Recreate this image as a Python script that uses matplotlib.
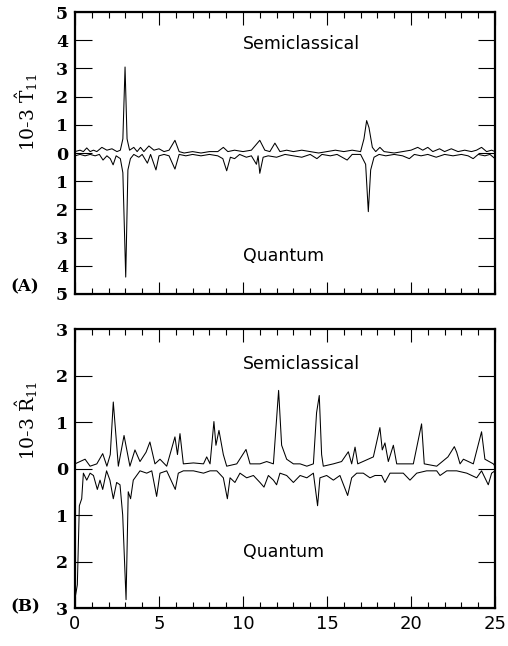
import matplotlib
matplotlib.use("Agg")
import matplotlib.pyplot as plt
import numpy as np

plt.rcParams['mathtext.fontset'] = 'dejavuserif'

# ---- Panel A data (T11) ----
ta_semi_x = [0.0, 0.3, 0.5, 0.7, 0.9, 1.1, 1.3, 1.6, 1.9, 2.2, 2.5, 2.7, 2.85, 2.98, 3.1, 3.25,
             3.5, 3.7, 3.9, 4.1, 4.4, 4.7, 5.0, 5.3, 5.6, 5.95, 6.2, 6.5, 7.0, 7.5, 8.0, 8.5,
             8.83, 9.1, 9.5, 10.0, 10.5, 11.0, 11.3, 11.6, 11.9, 12.2, 12.6, 13.0, 13.5, 14.0,
             14.5, 15.0, 15.5, 16.0, 16.5, 17.0, 17.2, 17.36, 17.5, 17.7, 17.9, 18.15, 18.4,
             19.0, 19.5, 20.0, 20.4, 20.7, 21.0, 21.3, 21.7, 22.0, 22.4, 22.8, 23.2, 23.6,
             23.9, 24.2, 24.5, 24.8, 25.0]
ta_semi_y = [0.05, 0.1, 0.05, 0.18, 0.05, 0.1, 0.05, 0.2, 0.1, 0.15, 0.05, 0.1, 0.5, 3.05, 0.5, 0.1,
             0.2, 0.05, 0.2, 0.05, 0.25, 0.1, 0.15, 0.05, 0.1, 0.45, 0.05, 0.0, 0.05, 0.0, 0.05, 0.05,
             0.2, 0.05, 0.1, 0.05, 0.1, 0.45, 0.1, 0.05, 0.35, 0.05, 0.1, 0.05, 0.1, 0.05,
             0.0, 0.05, 0.1, 0.05, 0.1, 0.05, 0.5, 1.15, 0.9, 0.2, 0.05, 0.2, 0.05,
             0.0, 0.05, 0.1, 0.2, 0.1, 0.2, 0.05, 0.15, 0.05, 0.15, 0.05, 0.1, 0.05,
             0.1, 0.2, 0.05, 0.1, 0.05]

ta_quan_x = [0.0, 0.3, 0.6, 0.9, 1.2, 1.45, 1.67, 1.9, 2.1, 2.27, 2.45, 2.7, 2.85, 3.02, 3.15, 3.3,
             3.5, 3.8, 4.0, 4.31, 4.5, 4.82, 5.0, 5.3, 5.6, 5.95, 6.2, 6.6, 7.0, 7.5, 8.0, 8.5,
             8.8, 9.03, 9.25, 9.5, 9.8, 10.2, 10.5, 10.8, 10.9, 11.0, 11.2, 11.5, 12.0, 12.5,
             13.0, 13.5, 14.0, 14.4, 14.7, 15.2, 15.6, 16.2, 16.5, 17.0, 17.3, 17.46, 17.6,
             17.8, 18.1, 18.5, 19.0, 19.5, 19.9, 20.2, 20.6, 21.0, 21.5, 22.0, 22.5, 23.0,
             23.4, 23.7, 24.0, 24.4, 24.7, 25.0]
ta_quan_y = [0.1, 0.05, 0.1, 0.05, 0.1, 0.05, 0.25, 0.1, 0.2, 0.42, 0.1, 0.2, 0.7, 4.4, 0.6, 0.2,
             0.05, 0.15, 0.05, 0.36, 0.05, 0.6, 0.1, 0.05, 0.1, 0.57, 0.05, 0.1, 0.05, 0.1, 0.05, 0.1,
             0.2, 0.63, 0.15, 0.2, 0.05, 0.15, 0.1, 0.4, 0.1, 0.72, 0.15, 0.1, 0.15, 0.05,
             0.1, 0.15, 0.05, 0.2, 0.05, 0.1, 0.05, 0.25, 0.05, 0.05, 0.4, 2.08, 0.6,
             0.15, 0.05, 0.1, 0.05, 0.1, 0.2, 0.05, 0.1, 0.05, 0.15, 0.05, 0.1, 0.05,
             0.1, 0.2, 0.05, 0.1, 0.05, 0.2]

# ---- Panel B data (R11) ----
rb_semi_x = [0.0, 0.3, 0.6, 0.9, 1.3, 1.65, 1.9, 2.1, 2.28, 2.58, 2.92, 3.27, 3.57, 3.87, 4.23,
             4.46, 4.76, 5.06, 5.46, 5.95, 6.1, 6.25, 6.45, 7.05, 7.65, 7.84, 8.04, 8.27, 8.39,
             8.57, 8.83, 9.03, 9.63, 10.18, 10.42, 11.01, 11.41, 11.81, 12.12, 12.3, 12.6,
             13.0, 13.4, 13.8, 14.19, 14.38, 14.54, 14.68, 14.78, 15.38, 15.87, 16.27, 16.47,
             16.67, 16.83, 17.76, 18.15, 18.29, 18.45, 18.65, 18.95, 19.15, 20.14, 20.63, 20.79,
             21.53, 22.2, 22.58, 22.72, 22.92, 23.12, 23.71, 24.2, 24.4, 24.9, 25.0]
rb_semi_y = [0.1, 0.15, 0.2, 0.05, 0.1, 0.32, 0.05, 0.3, 1.43, 0.05, 0.71, 0.05, 0.4, 0.15, 0.35,
             0.57, 0.1, 0.2, 0.05, 0.68, 0.3, 0.75, 0.1, 0.12, 0.1, 0.25, 0.1, 1.01, 0.5,
             0.82, 0.3, 0.05, 0.1, 0.41, 0.1, 0.1, 0.15, 0.1, 1.68, 0.5, 0.2,
             0.1, 0.1, 0.05, 0.1, 1.2, 1.57, 0.3, 0.05, 0.1, 0.15, 0.36, 0.1,
             0.46, 0.1, 0.25, 0.88, 0.4, 0.55, 0.15, 0.5, 0.1, 0.1, 0.96, 0.1,
             0.05, 0.25, 0.47, 0.35, 0.1, 0.2, 0.1, 0.79, 0.2, 0.1, 0.05]

rb_quan_x = [0.0, 0.14, 0.26, 0.4, 0.5, 0.7, 0.9, 1.1, 1.33, 1.49, 1.65, 1.88, 2.08, 2.28, 2.48,
             2.68, 2.84, 3.04, 3.17, 3.31, 3.47, 3.87, 4.27, 4.57, 4.86, 5.06, 5.46, 5.97, 6.15,
             6.45, 7.05, 7.65, 8.04, 8.44, 8.83, 9.07, 9.23, 9.52, 9.82, 10.22, 10.62, 11.01,
             11.25, 11.51, 11.81, 12.0, 12.2, 12.6, 13.0, 13.4, 13.8, 14.19, 14.44, 14.58,
             14.98, 15.38, 15.77, 16.23, 16.47, 16.77, 17.16, 17.56, 17.86, 18.25, 18.45, 18.75,
             19.15, 19.54, 19.94, 20.34, 20.93, 21.53, 21.73, 22.13, 22.72, 23.32, 23.91, 24.2,
             24.6, 24.8, 25.0]
rb_quan_y = [2.8, 2.5, 0.8, 0.65, 0.1, 0.25, 0.1, 0.15, 0.45, 0.25, 0.45, 0.05, 0.25, 0.65, 0.3,
             0.35, 1.0, 2.82, 0.5, 0.65, 0.25, 0.05, 0.1, 0.05, 0.6, 0.1, 0.05, 0.45, 0.1,
             0.05, 0.05, 0.1, 0.05, 0.05, 0.2, 0.65, 0.2, 0.3, 0.1, 0.2, 0.15, 0.3,
             0.4, 0.15, 0.25, 0.35, 0.1, 0.15, 0.3, 0.15, 0.2, 0.1, 0.8, 0.2,
             0.15, 0.25, 0.15, 0.58, 0.2, 0.1, 0.1, 0.2, 0.15, 0.15, 0.3, 0.1,
             0.1, 0.1, 0.25, 0.1, 0.05, 0.05, 0.15, 0.05, 0.05, 0.1, 0.2, 0.05,
             0.35, 0.1, 0.05]

ya_ticks = [-5, -4, -3, -2, -1, 0, 1, 2, 3, 4, 5]
ya_labels = ['5', '4', '3', '2', '1', '0', '1', '2', '3', '4', '5']
yb_ticks = [-3, -2, -1, 0, 1, 2, 3]
yb_labels = ['3', '2', '1', '0', '1', '2', '3']
x_ticks = [0, 5, 10, 15, 20, 25]
x_labels = ['0', '5', '10', '15', '20', '25']

fig = plt.figure(figsize=(5.08, 6.46), dpi=100)
axA = fig.add_axes([0.1476, 0.5449, 0.8268, 0.4365])
axB = fig.add_axes([0.1476, 0.0588, 0.8268, 0.4319])

serif = 'DejaVu Serif'

def style(ax, yt, yl, ylim, show_x):
    ax.set_xlim(0, 25)
    ax.set_ylim(*ylim)
    for s in ax.spines.values():
        s.set_linewidth(1.6)
    ax.set_xticks(x_ticks)
    ax.set_xticks(np.arange(0, 26, 1), minor=True)
    ax.set_yticks(yt)
    ax.set_yticklabels(yl, fontfamily=serif, fontsize=12.5, fontweight='semibold')
    if show_x:
        ax.set_xticklabels(x_labels, fontfamily='DejaVu Sans', fontsize=13)
    else:
        ax.set_xticklabels([])
    ax.tick_params(axis='x', which='major', direction='in', length=9, width=0.8,
                   top=True, bottom=True, pad=5)
    ax.tick_params(axis='x', which='minor', direction='in', length=4.5, width=0.8,
                   top=True, bottom=True)
    ax.tick_params(axis='y', which='major', direction='in', length=12, width=0.8,
                   left=True, right=True, pad=5)

axA.plot(ta_semi_x, ta_semi_y, color='black', lw=0.75)
axA.plot(ta_quan_x, [-v for v in ta_quan_y], color='black', lw=0.75)
style(axA, ya_ticks, ya_labels, (-5, 5), False)
axA.text(10.0, 3.87, 'Semiclassical', fontsize=12.5, ha='left', va='center')
axA.text(10.0, -3.65, 'Quantum', fontsize=12.5, ha='left', va='center')

axB.plot(rb_semi_x, rb_semi_y, color='black', lw=0.75)
axB.plot(rb_quan_x, [-v for v in rb_quan_y], color='black', lw=0.75)
style(axB, yb_ticks, yb_labels, (-3, 3), True)
axB.text(10.0, 2.25, 'Semiclassical', fontsize=12.5, ha='left', va='center')
axB.text(10.0, -1.8, 'Quantum', fontsize=12.5, ha='left', va='center')

fig.text(27 / 508, 1 - 112 / 646, r'10-3 $\hat{\mathrm{T}}_{11}$', rotation=90,
         ha='center', va='center', fontsize=13.5, fontfamily=serif)
fig.text(27 / 508, 1 - 420 / 646, r'10-3 $\hat{\mathrm{R}}_{11}$', rotation=90,
         ha='center', va='center', fontsize=13.5, fontfamily=serif)
fig.text(25 / 508, 1 - 287 / 646, '(A)', ha='center', va='center', fontsize=12,
         fontfamily=serif, fontweight='semibold')
fig.text(25 / 508, 1 - 607 / 646, '(B)', ha='center', va='center', fontsize=12,
         fontfamily=serif, fontweight='semibold')

fig.savefig('out.png', dpi=100)
